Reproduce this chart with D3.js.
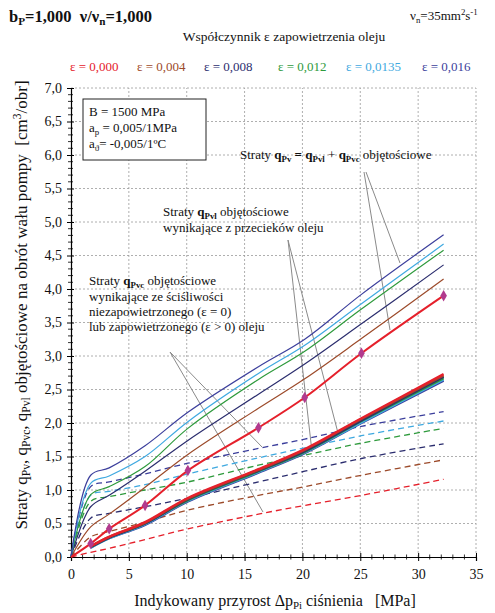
<!DOCTYPE html>
<html><head><meta charset="utf-8">
<script src="https://cdn.jsdelivr.net/npm/d3@7"></script>
<style>
body{margin:0;background:#fff;}
svg{display:block;}
svg text{font-family:"Liberation Serif","Times New Roman",serif;}
</style></head>
<body><svg id="c" width="495" height="613"></svg>
<script>
// ---------- data ----------
const epsLabels = ["ε = 0,000","ε = 0,004","ε = 0,008","ε = 0,012","ε = 0,0135","ε = 0,016"];
const epsColors = ["#e5202b","#9c4a2a","#2b2d6e","#2e9a3c","#3fa9e0","#3c3f9c"];
const pressure = [0,1.7,3.3,6.4,10.1,16.2,20.2,25.1,32.2];
// total losses qPv (solid)
const qPv_000  = [0,0.20,0.42,0.77,1.29,1.93,2.38,3.04,3.90];
const qPv_004  = [0,0.45,0.64,1.04,1.53,2.22,2.66,3.26,4.15];
const qPv_008  = [0,0.75,0.92,1.28,1.74,2.43,2.88,3.48,4.36];
const qPv_012  = [0,0.93,1.05,1.35,1.92,2.65,3.07,3.70,4.58];
const qPv_0135 = [0,1.10,1.21,1.50,2.02,2.74,3.16,3.78,4.67];
const qPv_016  = [0,1.22,1.33,1.66,2.16,2.84,3.25,3.92,4.81];
// compressibility losses qPvc (dashed)
const qPvc_000  = [0,0.07,0.13,0.26,0.42,0.64,0.77,0.92,1.16];
const qPvc_004  = [0,0.30,0.38,0.52,0.70,0.92,1.05,1.22,1.45];
const qPvc_008  = [0,0.58,0.65,0.75,0.88,1.12,1.28,1.47,1.69];
const qPvc_012  = [0,0.83,0.90,1.00,1.12,1.37,1.52,1.70,1.92];
const qPvc_0135 = [0,0.92,0.98,1.08,1.24,1.48,1.63,1.81,2.03];
const qPvc_016  = [0,1.05,1.12,1.24,1.40,1.62,1.76,1.95,2.17];
// leakage losses qPvl (thick bundle), starting at the first measured pressure
const pressureL = [1.7,3.3,6.4,10.1,16.2,20.2,25.1,32.2];
const qPvl_000  = [0.16,0.30,0.52,0.88,1.31,1.61,2.07,2.73];
const qPvl_004  = [0.16,0.30,0.51,0.87,1.30,1.60,2.06,2.71];
const qPvl_008  = [0.15,0.29,0.50,0.86,1.29,1.58,2.04,2.69];
const qPvl_012  = [0.15,0.29,0.50,0.85,1.28,1.57,2.03,2.67];
const qPvl_0135 = [0.14,0.28,0.49,0.84,1.27,1.56,2.01,2.65];
const qPvl_016  = [0.14,0.28,0.48,0.83,1.26,1.55,2.00,2.63];
const xTicks = [0,5,10,15,20,25,30,35];
const yTicks = [0,0.5,1,1.5,2,2.5,3,3.5,4,4.5,5,5.5,6,6.5,7];

const solid = [qPv_000,qPv_004,qPv_008,qPv_012,qPv_0135,qPv_016];
const dashed = [qPvc_000,qPvc_004,qPvc_008,qPvc_012,qPvc_0135,qPvc_016];
const leak = [qPvl_000,qPvl_004,qPvl_008,qPvl_012,qPvl_0135,qPvl_016];

// ---------- chart ----------
const svg = d3.select("#c");
const FONT = '"Liberation Serif","Times New Roman",serif';
const x = d3.scaleLinear().domain([0,35]).range([71,476]);
const y = d3.scaleLinear().domain([0,7]).range([557,88]);
const fmt = d3.format(".1f");
const comma = v => fmt(v).replace(".",",");

// grid
const g = svg.append("g");
g.selectAll(".gx").data(xTicks.slice(1)).join("line")
  .attr("x1",d=>x(d)).attr("x2",d=>x(d)).attr("y1",y(0)).attr("y2",y(7))
  .attr("stroke","#9a9a9a").attr("stroke-width",0.8).attr("stroke-dasharray","2,2");
g.selectAll(".gy").data(yTicks.slice(1)).join("line")
  .attr("x1",x(0)).attr("x2",x(35)).attr("y1",d=>y(d)).attr("y2",d=>y(d))
  .attr("stroke","#9a9a9a").attr("stroke-width",0.8).attr("stroke-dasharray","2,2");

// axes
const xAxis = d3.axisBottom(x).tickValues(xTicks).tickSize(4).tickFormat(d=>d);
const xa = svg.append("g").attr("transform",`translate(0,${y(0)})`).call(xAxis)
  .attr("font-family",FONT).attr("font-size",14);
xa.select(".domain").attr("stroke","#000").attr("stroke-width",1.2);
xa.selectAll(".tick line").attr("y1",-4).attr("stroke","#000");
xa.selectAll("text").attr("font-size",14).attr("dy","1.05em").attr("fill","#111");
const xMinor = d3.range(0,36,1).filter(v=>v%5!==0);
svg.append("g").selectAll("line").data(xMinor).join("line")
  .attr("x1",d=>x(d)).attr("x2",d=>x(d)).attr("y1",y(0)-2.5).attr("y2",y(0)+2.5)
  .attr("stroke","#000").attr("stroke-width",0.8);

const yAxis = d3.axisLeft(y).tickValues(yTicks).tickSize(4).tickFormat(comma);
const ya = svg.append("g").attr("transform",`translate(${x(0)},0)`).call(yAxis)
  .attr("font-family",FONT).attr("font-size",14);
ya.select(".domain").attr("stroke","#000").attr("stroke-width",1.2);
ya.selectAll(".tick line").attr("x1",3).attr("stroke","#000");
ya.selectAll("text").attr("font-size",14).attr("x",-9).attr("fill","#111");
const yMinor = d3.range(0,70,1).map(v=>v/10).filter(v=>Math.round(v*10)%5!==0);
svg.append("g").selectAll("line").data(yMinor).join("line")
  .attr("x1",x(0)-3).attr("x2",x(0)+2).attr("y1",d=>y(d)).attr("y2",d=>y(d))
  .attr("stroke","#000").attr("stroke-width",0.8);

// annotation leader lines (behind data)
const ann = svg.append("g").attr("stroke","#8a8a8a").attr("stroke-width",1);
[[366,172,400,263],[364,172,390,330],[288,240,338,433],[288,240,312,452],[170,352,262,447],[170,352,263,512]]
  .forEach(l=>ann.append("line").attr("x1",l[0]).attr("y1",l[1]).attr("x2",l[2]).attr("y2",l[3]));

const line = d3.line().curve(d3.curveCatmullRom.alpha(0.5));
// dashed qPvc
dashed.forEach((s,i)=>{
  svg.append("path").attr("d",line(pressure.map((p,j)=>[x(p),y(s[j])])))
    .attr("fill","none").attr("stroke",epsColors[i]).attr("stroke-width",1.3)
    .attr("stroke-dasharray","6,4");
});
// solid qPv
solid.forEach((s,i)=>{
  if(i===0) return;
  svg.append("path").attr("d",line(pressure.map((p,j)=>[x(p),y(s[j])])))
    .attr("fill","none").attr("stroke",epsColors[i]).attr("stroke-width",1.2);
});
// leakage bundle
for(let i=5;i>=0;i--){
  svg.append("path").attr("d",line(pressureL.map((p,j)=>[x(p),y(leak[i][j])])))
    .attr("fill","none").attr("stroke",epsColors[i]).attr("stroke-width",2.4);
}
// red total with markers
svg.append("path").attr("d",line(pressure.map((p,j)=>[x(p),y(qPv_000[j])])))
  .attr("fill","none").attr("stroke",epsColors[0]).attr("stroke-width",2);
svg.append("g").selectAll("path").data(pressure.slice(1)).join("path")
  .attr("d",d3.symbol().type(d3.symbolDiamond).size(38))
  .attr("transform",(p,j)=>`translate(${x(p)},${y(qPv_000[j+1])})`)
  .attr("fill","#b23a8e");

// ---------- texts ----------
function rich(parent, xx, yy, parts, size, anchor){
  const t = parent.append("text").attr("x",xx).attr("y",yy).attr("font-size",size).attr("fill","#111")
    .attr("font-family",FONT);
  if(anchor) t.attr("text-anchor",anchor);
  parts.forEach(p=>{
    const s = t.append("tspan").text(p.t);
    if(p.b) s.attr("font-weight","bold");
    if(p.sub){ s.attr("font-size",size*0.68).attr("dy",size*0.2); }
    if(p.sup){ s.attr("font-size",size*0.68).attr("dy",-size*0.38); }
    if(p.back) s.attr("dy",p.back);
  });
  return t;
}
const NB = "\u00A0";
// header
rich(svg,9,22,[{t:"b",b:1},{t:"P",b:1,sub:1},{t:"=1,000"+NB+NB+"ν/ν",b:1,back:-16*0.2},{t:"n",b:1,sub:1},{t:"=1,000",b:1,back:-16*0.2}],16.5);
rich(svg,410,20,[{t:"ν"},{t:"n",sub:1},{t:"=35mm",back:-13*0.2},{t:"2",sup:1},{t:"s",back:13*0.38},{t:"-1",sup:1}],13);
svg.append("text").attr("x",284).attr("y",41).attr("text-anchor","middle").attr("font-size",13.5).attr("fill","#111")
  .attr("font-family",FONT).text("Współczynnik ε zapowietrzenia oleju");
const legX = [70,137,204,278,346,422];
epsLabels.forEach((l,i)=>svg.append("text").attr("x",legX[i]).attr("y",71).attr("font-size",13)
  .attr("font-family",FONT).attr("fill",epsColors[i]).text(l));

// info box
svg.append("rect").attr("x",83).attr("y",99).attr("width",123).attr("height",61)
  .attr("fill","#fff").attr("stroke","#222").attr("stroke-width",1);
rich(svg,89,116,[{t:"B = 1500 MPa"}],13);
rich(svg,89,132,[{t:"a"},{t:"p",sub:1},{t:" = 0,005/1MPa",back:-13*0.2}],13);
rich(svg,89,148,[{t:"a"},{t:"ϑ",sub:1},{t:"= -0,005/1ºC",back:-13*0.2}],13);

// annotations
const f=13, bk=-f*0.2;
rich(svg,240,159,[{t:"Straty "},{t:"q",b:1},{t:"Pv",b:1,sub:1},{t:" = ",b:1,back:bk},{t:"q",b:1},{t:"Pvl",b:1,sub:1},{t:" + ",back:bk},{t:"q",b:1},{t:"Pvc",b:1,sub:1},{t:" objętościowe",back:bk}],f);
rich(svg,163,216,[{t:"Straty "},{t:"q",b:1},{t:"Pvl",b:1,sub:1},{t:" objętościowe",back:bk}],f);
rich(svg,163,232,[{t:"wynikające z przecieków oleju"}],f);
rich(svg,89,285,[{t:"Straty "},{t:"q",b:1},{t:"Pvc",b:1,sub:1},{t:" objętościowe",back:bk}],f);
rich(svg,89,301,[{t:"wynikające ze ściśliwości"}],f);
rich(svg,89,316,[{t:"niezapowietrzonego (ε = 0)"}],f);
rich(svg,89,331,[{t:"lub zapowietrzonego (ε > 0) oleju"}],f);

// axis titles
rich(svg,275,606,[{t:"Indykowany przyrost Δp"},{t:"Pi",sub:1},{t:" ciśnienia"+NB+NB+NB+"[MPa]",back:-16*0.2}],16,"middle");
const yt = rich(svg,0,0,[{t:"Straty q"},{t:"Pv",sub:1},{t:", q",back:-17*0.2},{t:"Pvc",sub:1},{t:", q",back:-17*0.2},{t:"Pvl",sub:1},
  {t:" objętościowe na obrót wału pompy"+NB+NB+"[cm",back:-17*0.2},{t:"3",sup:1},{t:"/obr]",back:17*0.38}],17,"middle");
yt.attr("transform","translate(27,305) rotate(-90)");
</script></body></html>
